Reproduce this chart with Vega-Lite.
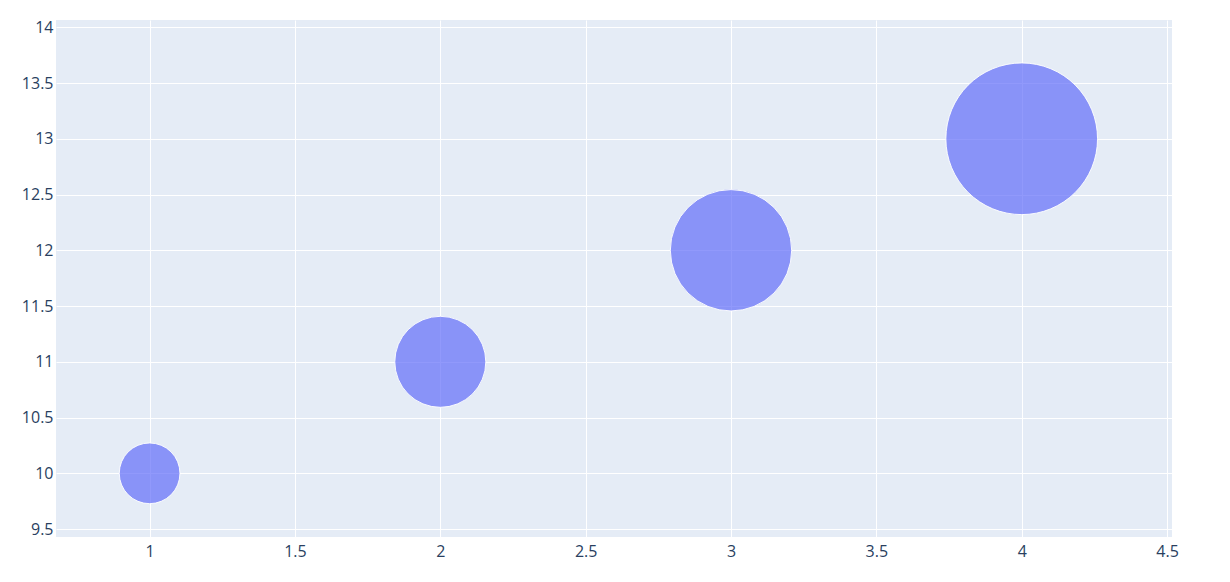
{
  "$schema": "https://vega.github.io/schema/vega-lite/v6.json",
  "autosize": {"type": "none"},
  "width": 1116,
  "height": 517,
  "padding": {"left": 56, "top": 20, "right": 58, "bottom": 45},
  "background": "white",
  "config": {
    "view": {"fill": "#e5ecf6", "stroke": null},
    "axis": {
      "labelFont": "Open Sans",
      "labelFontSize": 16,
      "labelColor": "#2a3f5f",
      "domain": false,
      "ticks": false,
      "gridColor": "white",
      "gridWidth": 1,
      "gridOpacity": 1,
      "title": null
    }
  },
  "data": {
    "values": [
      {"x": 1, "y": 10, "size": 40},
      {"x": 2, "y": 11, "size": 60},
      {"x": 3, "y": 12, "size": 80},
      {"x": 4, "y": 13, "size": 100}
    ]
  },
  "mark": {"type": "circle", "fill": "#636efa", "fillOpacity": 0.7, "stroke": "white", "strokeOpacity": 0.9, "strokeWidth": 1},
  "encoding": {
    "x": {
      "field": "x", "type": "quantitative",
      "scale": {"domain": [0.678, 4.517], "nice": false, "zero": false},
      "axis": {"values": [1, 1.5, 2, 2.5, 3, 3.5, 4, 4.5], "format": "~g", "labelPadding": 6, "labelFontSize": 16, "title": null}
    },
    "y": {
      "field": "y", "type": "quantitative",
      "scale": {"domain": [9.429, 14.065], "nice": false, "zero": false},
      "axis": {"values": [9.5, 10, 10.5, 11, 11.5, 12, 12.5, 13, 13.5, 14], "format": "~g", "labelPadding": 3, "labelFontSize": 16, "title": null}
    },
    "size": {
      "field": "size", "type": "quantitative",
      "scale": {"type": "pow", "exponent": 2, "domain": [0, 100], "range": [0, 23000], "zero": true},
      "legend": null
    }
  }
}
